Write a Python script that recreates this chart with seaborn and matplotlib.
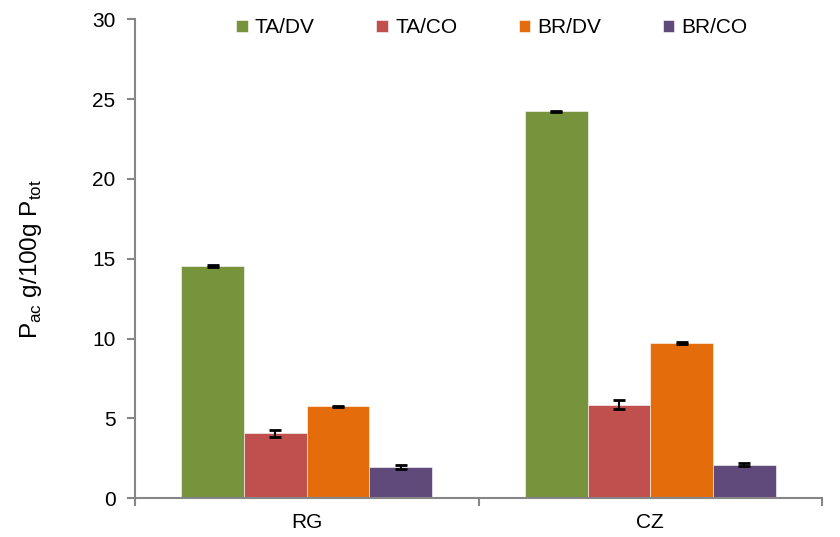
import numpy as np
import pandas as pd
import matplotlib
matplotlib.use("Agg")
import matplotlib.pyplot as plt
import seaborn as sns

# dati
siti = ["RG", "CZ"]
trattamenti = ["TA/DV", "TA/CO", "BR/DV", "BR/CO"]
valori_RG = [14.55, 4.05, 5.75, 1.95]
valori_CZ = [24.25, 5.85, 9.72, 2.08]
errori_RG = [0.04, 0.22, 0.04, 0.10]
errori_CZ = [0.04, 0.30, 0.04, 0.09]
colori = ["#77933C", "#C0504D", "#E46C0A", "#604A7B"]

df = pd.DataFrame({
    "sito": np.repeat(siti, len(trattamenti)),
    "trattamento": trattamenti * len(siti),
    "valore": valori_RG + valori_CZ,
    "errore": errori_RG + errori_CZ,
})

sns.set_style("white")
plt.rcParams['font.family'] = ['Liberation Sans', 'DejaVu Sans']
plt.rcParams['mathtext.fontset'] = 'custom'
plt.rcParams['mathtext.rm'] = 'Liberation Sans'
plt.rcParams['text.color'] = 'black'
plt.rcParams['xtick.color'] = 'black'
plt.rcParams['ytick.color'] = 'black'
plt.rcParams['axes.labelcolor'] = 'black'

fs = 15

fig = plt.figure(figsize=(8.4, 5.37), dpi=100)
ax = fig.add_axes([0.1607, 0.0726, 0.8179, 0.8911])

sns.barplot(data=df, x="sito", y="valore", hue="trattamento", order=siti,
            hue_order=trattamenti, palette=colori, width=0.73, errorbar=None,
            edgecolor="white", linewidth=0.4, saturation=1, ax=ax)

# barre di errore sopra ogni barra
for cont, tr in zip(ax.containers, trattamenti):
    for patch, sito in zip(cont.patches, siti):
        riga = df[(df.sito == sito) & (df.trattamento == tr)].iloc[0]
        xc = patch.get_x() + patch.get_width() / 2
        ax.errorbar(xc, riga.valore, yerr=riga.errore, fmt="none",
                    ecolor="black", elinewidth=1.5, capsize=4.3, capthick=2)

ax.set_ylim(0, 30)
ax.set_xlim(-0.5, 1.5)
ax.set_yticks(range(0, 31, 5))
ax.set_xlabel("")
ax.set_ylabel(r"P$_{\rm ac}$ g/100g P$_{\rm tot}$", fontsize=17.5, labelpad=35)

for s in ["top", "right"]:
    ax.spines[s].set_visible(False)
for s in ["left", "bottom"]:
    ax.spines[s].set_color("#868686")
    ax.spines[s].set_linewidth(1.5)

ax.tick_params(axis="y", which="major", length=6, width=1.5, color="#868686",
               direction="out", left=True, labelsize=fs, pad=8)
ax.tick_params(axis="x", which="major", length=0, labelsize=fs, pad=11)
ax.set_xticks([-0.5, 0.5, 1.5], minor=True)
ax.tick_params(axis="x", which="minor", length=6, width=1.5, color="#868686",
               direction="out", bottom=True)

ax.legend(ncol=4, loc="upper center", bbox_to_anchor=(0.5195, 1.02),
          frameon=False, fontsize=fs, handlelength=0.55, handleheight=0.55,
          handletextpad=0.35, columnspacing=2.95, borderaxespad=0)

fig.savefig("out.png", dpi=100)
